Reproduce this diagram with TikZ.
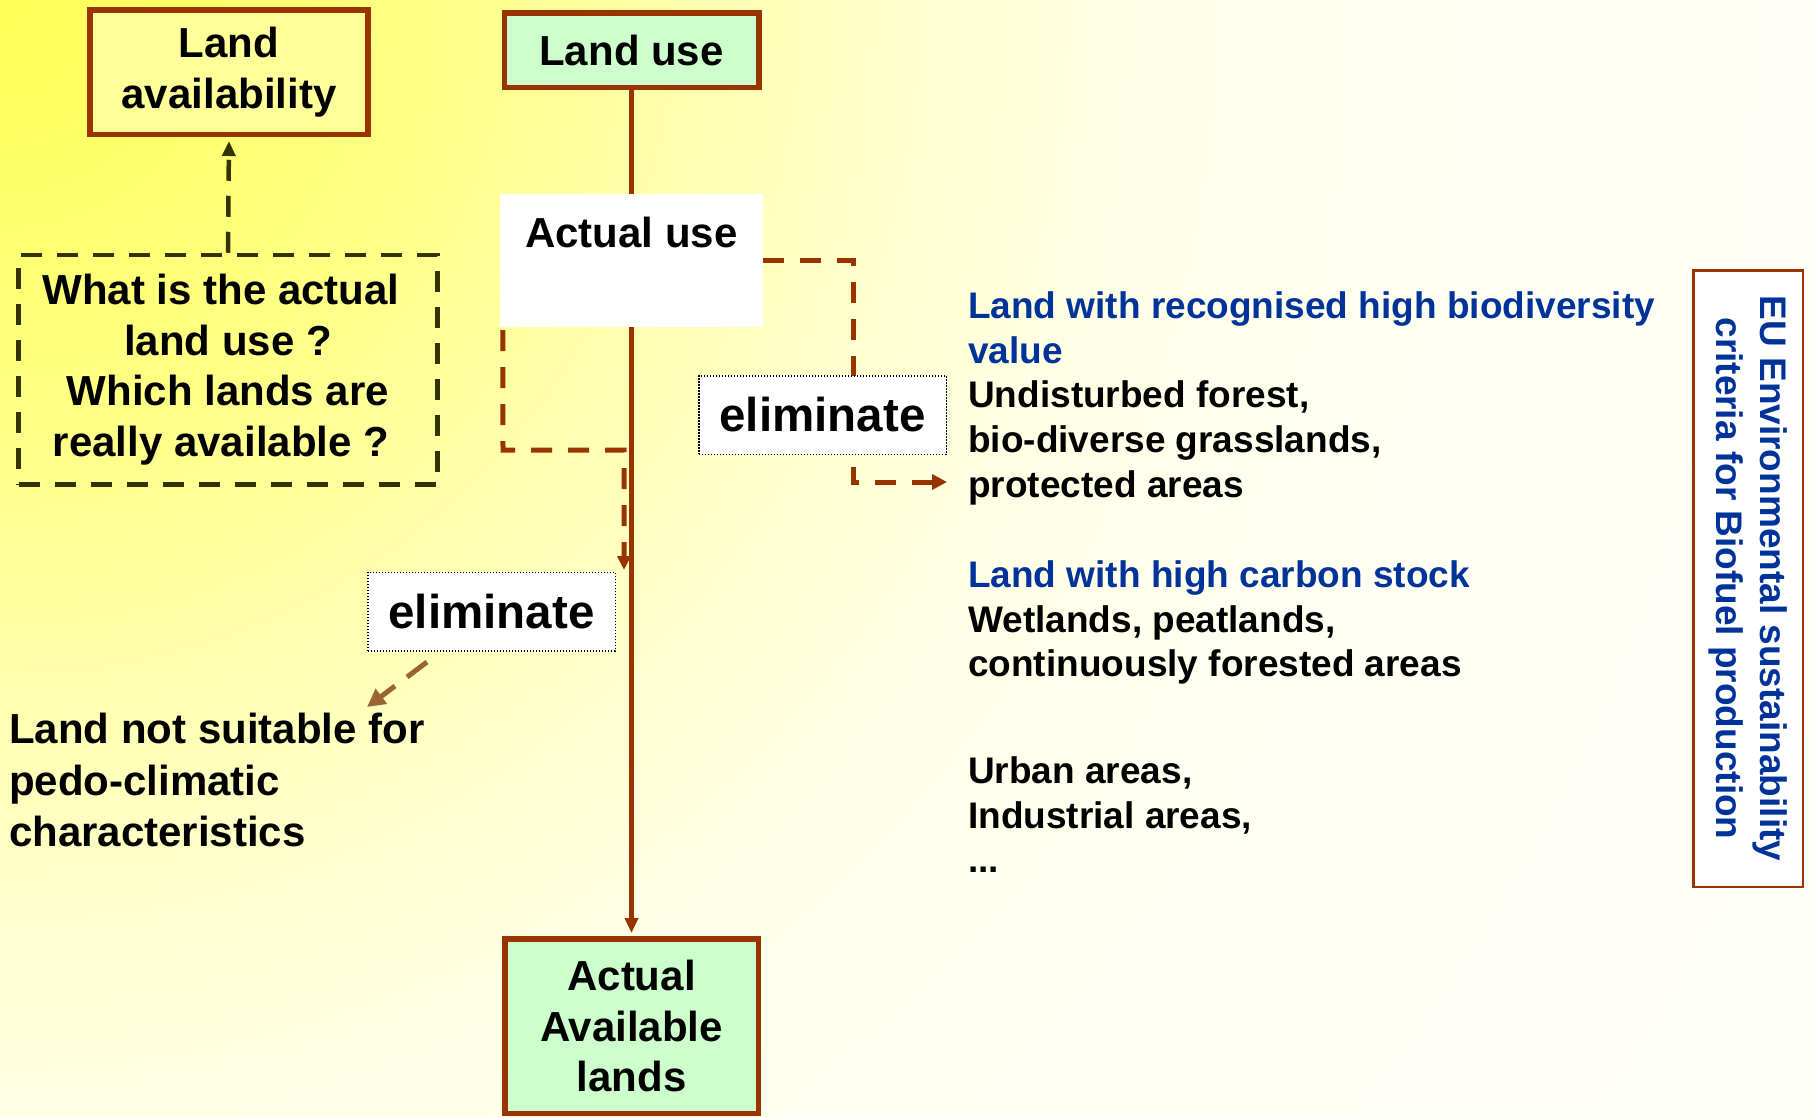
\documentclass[tikz,border=0pt]{standalone}
\usepackage{fontspec}
\setmainfont{Liberation Sans}
\usetikzlibrary{arrows.meta}
\definecolor{cbrown}{RGB}{153,51,0}
\definecolor{colive}{RGB}{51,51,0}
\definecolor{ctan}{RGB}{153,102,51}
\definecolor{cblue}{RGB}{0,51,153}
\definecolor{cgreen}{RGB}{204,255,204}
\definecolor{cyel}{RGB}{255,255,153}
\definecolor{bgA}{RGB}{255,255,85}
\definecolor{bgB}{RGB}{255,255,136}
\definecolor{bgC}{RGB}{255,255,176}
\definecolor{bgD}{RGB}{255,255,204}
\definecolor{bgE}{RGB}{255,255,230}
\definecolor{bgF}{RGB}{255,255,244}
\definecolor{bgG}{RGB}{255,255,250}
\pgfdeclareradialshading{bgshade}{\pgfpoint{0bp}{0bp}}{color(0bp)=(bgA); color(5.36bp)=(bgB); color(8.33bp)=(bgC); color(10.7bp)=(bgD); color(13.3bp)=(bgE); color(17.9bp)=(bgF); color(25bp)=(bgG); color(50bp)=(bgG)}
\pgfdeclarelayer{bglayer}
\pgfdeclarelayer{lines}
\pgfsetlayers{bglayer,lines,main}
\newcommand\fbig{\fontsize{42}{50.5}\selectfont\bfseries}
\newcommand\fsmalltxt{\fontsize{37}{44.7}\selectfont\bfseries}
\newcommand\felim{\fontsize{47.5}{55}\selectfont\bfseries}
\newcommand\fleft{\fontsize{42}{51.5}\selectfont\bfseries}
\tikzset{
  boxA/.style={draw=cbrown, line width=5.5pt, inner sep=0pt, align=center, font=\fbig},
  qbox/.style={draw=colive, line width=4.5pt, dash pattern=on 21pt off 15pt, inner sep=0pt, align=center, font=\fbig},
  elimbox/.style={draw=black, fill=white, line width=1.5pt, dash pattern=on 1.5pt off 1.5pt, inner sep=0pt, minimum width=247.5pt, minimum height=78.5pt, font=\felim},
  plaintxt/.style={inner sep=0pt, anchor=north west, align=left},
  mainline/.style={draw=cbrown, line width=5pt, -{Triangle[length=15pt,width=13pt]}},
  bdash/.style={draw=cbrown, line width=5pt, dash pattern=on 21pt off 16pt, -{Triangle[length=15pt,width=15pt]}},
  odash/.style={draw=colive, line width=4.5pt, dash pattern=on 21pt off 15pt, -{Triangle[length=15pt,width=13pt]}},
  tdash/.style={draw=ctan, line width=5pt, dash pattern=on 25pt off 15pt, -{Triangle[length=18pt,width=18pt]}},
}
\begin{document}
\begin{tikzpicture}[x=1pt,y=-1pt]
\useasboundingbox (0,0) rectangle (1814,1117);
\begin{pgfonlayer}{bglayer}
  \begin{scope}
    \clip (0,0) rectangle (1814,1117);
    \shade[shading=bgshade] (-2100,-2100) rectangle (2100,2100);
  \end{scope}
\end{pgfonlayer}

% boxes
\node[boxA, fill=cyel, minimum width=278pt, minimum height=124.5pt] (landav) at (229,72) {Land\\availability};
\node[boxA, fill=cgreen, minimum width=254.5pt, minimum height=74.5pt] (landuse) at (631.5,50) {Land use};
\node[boxA, fill=cgreen, minimum width=253.5pt, minimum height=174.5pt] (actavail) at (631.5,1026) {Actual\\Available\\lands};
\node[qbox, minimum width=419pt, minimum height=229.5pt] (question) at (228,369.75) {What is the actual\hspace*{14pt}\\land use ?\hspace*{14pt}\\Which lands are\hspace*{14pt}\\really available ?\hspace*{14pt}};
\node[fill=white, inner sep=0pt, minimum width=263pt, text height=53pt, text depth=80pt, font=\fbig] (actual) at (631.5,260.5) {Actual use};
\node[elimbox] (elimR) at (822.5,415) {eliminate};
\node[elimbox] (elimL) at (491.5,611.5) {eliminate};

% texts
\node[plaintxt, font=\fleft] (notsuit) at (9,713) {Land not suitable for\\pedo-climatic\\characteristics};
\node[plaintxt, font=\fsmalltxt] (bio) at (968,291.5) {\textcolor{cblue}{Land with recognised high biodiversity}\\\textcolor{cblue}{value}\\Undisturbed forest,\\bio-diverse grasslands,\\protected areas};
\node[plaintxt, font=\fsmalltxt] (carbon) at (968,560.5) {\textcolor{cblue}{Land with high carbon stock}\\Wetlands, peatlands,\\continuously forested areas};
\node[plaintxt, font=\fsmalltxt] (urban) at (968,756.5) {Urban areas,\\Industrial areas,\\...};
\node[draw=cbrown, line width=2.5pt, fill=white, rotate=-90, inner sep=0pt, minimum width=616.5pt, minimum height=109.5pt, align=center, font=\fsmalltxt, text=cblue] (eu) at (1748,578.5) {EU Environmental sustainability\\criteria for Biofuel production};

% free ends
\coordinate (rtip) at (947,482);
\coordinate (ltip) at (624,570);
\coordinate (t1) at (427,662);
\coordinate (t2) at (367,707);

\begin{pgfonlayer}{lines}
  \draw[mainline, shorten >=3pt] (landuse.south) -- (actavail.north);
  \draw[odash, shorten >=4pt] (question.north) -- (landav.south);
  \draw[bdash] (actual.east) -| (853,482) -- (rtip);
  \draw[bdash, -{Triangle[length=14pt,width=13pt]}] (actual.south west) ++(3,3) -- (503,450) -| (ltip);
  \draw[tdash] (t1) -- (t2);
\end{pgfonlayer}
\end{tikzpicture}
\end{document}
